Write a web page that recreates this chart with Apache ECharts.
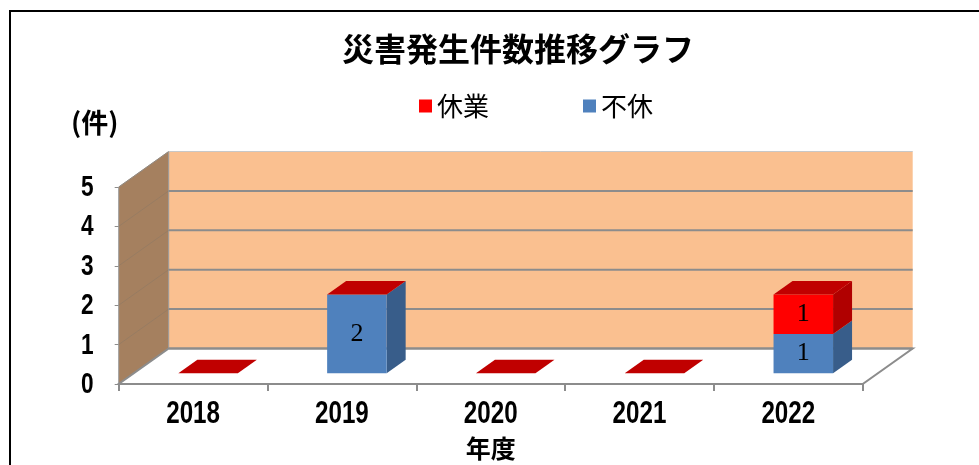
<!DOCTYPE html>
<html><head><meta charset="utf-8">
<script src="https://cdn.jsdelivr.net/npm/echarts@6.0.0/dist/echarts.min.js"></script>
<style>html,body{margin:0;padding:0;background:#fff}#c{width:979px;height:465px}</style>
</head><body><div id="c"></div>
<script>
// ---- data ----
const categories = ['2018', '2019', '2020', '2021', '2022'];
const kyugyo = [0, 0, 0, 0, 1];   // 休業
const fukyu  = [0, 2, 0, 0, 1];   // 不休
const yTicks = [0, 1, 2, 3, 4, 5];
const titleText = '災害発生件数推移グラフ';
const xName = '年度';
const yUnit = '(件)';

// ---- 3D look (styling) ----
const DX = 50, DY = -35.5;       // depth offset of the back wall
const F1 = 0.30, F2 = 0.68;      // bar front / back depth fraction
const BAR_W = 0.40;              // bar width as fraction of band
const LABEL_FONT = "bold 31px 'Liberation Sans', Arial, sans-serif";
const YLABEL_FONT = "bold 29px 'Liberation Sans', Arial, sans-serif";
const CJK = "'Noto Sans CJK JP', sans-serif";
const yMax = yTicks[yTicks.length - 1];

function wallsRender(params, api) {
  const band = api.size([1, 0])[0];
  const n = categories.length;
  const x0 = api.coord([0, 0])[0] - band / 2;
  const x1 = api.coord([n - 1, 0])[0] + band / 2;
  const yb = api.coord([0, 0])[1];
  const yt = api.coord([0, yMax])[1];
  const ch = [];
  ch.push({type: 'polygon', shape: {points: [[x0 + DX, yb + DY], [x1 + DX, yb + DY], [x1 + DX, yt + DY], [x0 + DX, yt + DY]]},
    style: {fill: '#FAC090', stroke: null}});
  ch.push({type: 'polygon', shape: {points: [[x0, yb], [x0, yt], [x0 + DX, yt + DY], [x0 + DX, yb + DY]]},
    style: {fill: '#A5805F', stroke: '#9a9a9a', lineWidth: 1}});
  ch.push({type: 'polygon', shape: {points: [[x0, yb], [x1, yb], [x1 + DX, yb + DY], [x0 + DX, yb + DY]]},
    style: {fill: '#ffffff', stroke: '#8C8C8C', lineWidth: 2}});
  yTicks.forEach(function (v) {
    const y = api.coord([0, v])[1];
    if (v > 0) {
      ch.push({type: 'line', shape: {x1: x0, y1: y, x2: x0 + DX, y2: y + DY},
        style: {stroke: 'rgba(140,120,100,0.55)', lineWidth: 1}});
    }
    ch.push({type: 'line', shape: {x1: x0 + DX, y1: y + DY, x2: x1 + DX, y2: y + DY},
      style: {stroke: v === yMax ? '#c8c8c8' : '#8C8C8C', lineWidth: v === yMax ? 1 : 2}});
    ch.push({type: 'text', x: x0 - 25, y: y + 1, scaleX: 0.78,
      style: {text: String(v), font: YLABEL_FONT, fill: '#000', align: 'right', verticalAlign: 'middle'}});
  });
  categories.forEach(function (c, i) {
    const p = api.coord([i, 0]);
    ch.push({type: 'text', x: p[0], y: p[1] + 30, scaleX: 0.78,
      style: {text: c, font: LABEL_FONT, fill: '#000', align: 'center', verticalAlign: 'middle'}});
  });
  return {type: 'group', children: ch};
}

function box(api, i, lo, hi, cFront, cSide, cTop, label, drawTop) {
  const band = api.size([1, 0])[0];
  const c = api.coord([i, 0]);
  const w = band * BAR_W;
  const cx = c[0] + F1 * DX;
  const yLo = api.coord([i, lo])[1] + F1 * DY;
  const yHi = api.coord([i, hi])[1] + F1 * DY;
  const xl = cx - w / 2, xr = cx + w / 2;
  const ddx = (F2 - F1) * DX, ddy = (F2 - F1) * DY;
  const ch = [];
  if (hi > lo) {
    ch.push({type: 'polygon', shape: {points: [[xr, yHi], [xr + ddx, yHi + ddy], [xr + ddx, yLo + ddy], [xr, yLo]]},
      style: {fill: cSide}});
    ch.push({type: 'rect', shape: {x: xl, y: yHi, width: w, height: yLo - yHi}, style: {fill: cFront}});
    if (label) {
      ch.push({type: 'text', x: cx, y: (yHi + yLo) / 2, style: {text: label, fill: '#000',
        font: "26px 'Liberation Serif', 'DejaVu Serif', serif", align: 'center', verticalAlign: 'middle'}});
    }
  }
  if (drawTop) {
    ch.push({type: 'polygon', shape: {points: [[xl, yHi], [xr, yHi], [xr + ddx, yHi + ddy], [xl + ddx, yHi + ddy]]},
      style: {fill: cTop}});
  }
  return {type: 'group', children: ch};
}

const chart = echarts.init(document.getElementById('c'), null, {renderer: 'canvas'});
chart.setOption({
  backgroundColor: '#ffffff',
  animation: false,
  title: {
    text: titleText, left: 337, top: 28,
    textStyle: {fontFamily: CJK, fontSize: 32, fontWeight: 'bold', color: '#000'}
  },
  legend: {
    data: ['休業', '不休'], left: 414, top: 87, itemWidth: 13, itemHeight: 13, itemGap: 94,
    icon: 'rect',
    textStyle: {fontFamily: CJK, fontSize: 26, color: '#000', lineHeight: 28}
  },
  grid: {left: 118.7, right: 116.3, top: 187, bottom: 81, containLabel: false},
  xAxis: {
    type: 'category', data: categories,
    name: xName, nameLocation: 'middle', nameGap: 52,
    nameTextStyle: {fontFamily: CJK, fontSize: 25, fontWeight: 'bold', color: '#000'},
    axisLine: {show: true, lineStyle: {color: '#8C8C8C', width: 2}},
    axisTick: {show: true, length: 7, lineStyle: {color: '#8C8C8C', width: 2}},
    axisLabel: {show: false},
    splitLine: {show: false}
  },
  yAxis: {
    type: 'value', min: 0, max: yMax, interval: 1,
    axisLine: {show: false},
    axisTick: {show: true, length: 4, lineStyle: {color: '#8C8C8C'}},
    axisLabel: {show: false},
    splitLine: {show: false}
  },
  graphic: [
    {type: 'polyline', shape: {points: [[10, 465], [10, 11], [979, 11]]}, style: {stroke: '#000', lineWidth: 2, fill: null}},
    {type: 'text', left: 71, top: 109, style: {text: yUnit, font: "bold 27px 'Noto Sans CJK JP', sans-serif", fill: '#000'}}
  ],
  series: [
    {
      type: 'custom', name: 'walls', silent: true, z: 1,
      data: [[0, 0]],
      renderItem: wallsRender
    },
    {
      type: 'custom', name: '不休', z: 3,
      itemStyle: {color: '#4F81BD'},
      data: categories.map(function (c, i) { return [i, fukyu[i]]; }),
      renderItem: function (params, api) {
        const i = api.value(0), v = api.value(1);
        return box(api, i, 0, v, '#4F81BD', '#385D8A', '#3F6CA3', v > 0 ? String(v) : '', false);
      }
    },
    {
      type: 'custom', name: '休業', z: 4,
      itemStyle: {color: '#FF0000'},
      data: categories.map(function (c, i) { return [i, kyugyo[i], fukyu[i]]; }),
      renderItem: function (params, api) {
        const i = api.value(0), v = api.value(1), base = api.value(2);
        return box(api, i, base, base + v, '#FF0000', '#B00000', '#C00000', v > 0 ? String(v) : '', true);
      }
    }
  ]
});
</script></body></html>
